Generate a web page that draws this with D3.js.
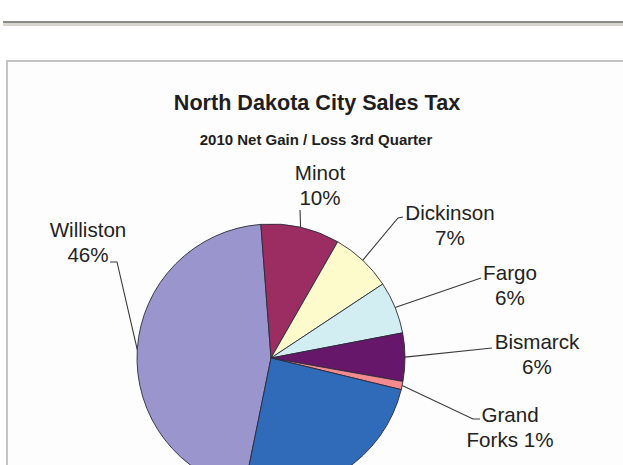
<!DOCTYPE html>
<html>
<head>
<meta charset="utf-8">
<script src="https://cdn.jsdelivr.net/npm/d3@7"></script>
<style>
  html, body { margin: 0; padding: 0; background: #fff; overflow: hidden; }
  svg { display: block; }
</style>
</head>
<body>
<svg id="chart" width="623" height="465"></svg>
<script>
// Slice order follows the workbook (Williston is the first series point).
const cities = ['Williston', 'Minot', 'Dickinson', 'Fargo', 'Bismarck', 'Grand Forks', 'Other'];
const shares = [45.6, 9.5, 7.4, 6.3, 5.8, 1.0, 24.4];
const colors = ['#9a96cd', '#9c2d62', '#fdfbcc', '#d3eef3', '#66176a', '#f28a8e', '#2f6bb9'];

const title = 'North Dakota City Sales Tax';
const subtitle = '2010 Net Gain / Loss 3rd Quarter';

// Hand placed labels (Excel style), text centre + baseline, leader end points.
const labelLayout = {
  'Williston':   { x: 88,  y: 237, leader: [[117, 262], [110, 262]] },
  'Minot':       { x: 320, y: 180, leader: [[300, 210]] },
  'Dickinson':   { x: 450, y: 220, leader: [[398, 218], [403, 217]] },
  'Fargo':       { x: 510, y: 280, leader: [[481, 278]] },
  'Bismarck':    { x: 537, y: 349, leader: [[492, 348]] },
  'Grand Forks': { x: 510, y: 422, leader: [[473, 419], [480, 419]] }
};

const svg = d3.select('#chart');
const font = '"Liberation Sans", Arial, sans-serif';

// page rule
svg.append('rect').attr('x', 3).attr('y', 21).attr('width', 620).attr('height', 2).attr('fill', '#8a8a8a');
svg.append('rect').attr('x', 3).attr('y', 23).attr('width', 620).attr('height', 3).attr('fill', '#d8d5ce');

// chart frame
svg.append('rect')
  .attr('x', 7).attr('y', 61).attr('width', 640).attr('height', 440)
  .attr('fill', '#fdfdfd').attr('stroke', '#c4c4c4').attr('stroke-width', 2);

svg.append('text')
  .attr('x', 317).attr('y', 110)
  .attr('text-anchor', 'middle')
  .style('font', `bold 21.6px ${font}`)
  .attr('fill', '#1e1e1e')
  .text(title);

svg.append('text')
  .attr('x', 316).attr('y', 145)
  .attr('text-anchor', 'middle')
  .style('font', `bold 15px ${font}`)
  .attr('fill', '#1e1e1e')
  .text(subtitle);

const cx = 271, cy = 358, radius = 134;
const start = 191.5 * Math.PI / 180;

const pie = d3.pie().sort(null).startAngle(start).endAngle(start + 2 * Math.PI);
const arcs = pie(shares)
  .map((a, i) => Object.assign(a, { city: cities[i], color: colors[i] }));

const arc = d3.arc().innerRadius(0).outerRadius(radius);
const edge = d3.arc().innerRadius(radius).outerRadius(radius);

const g = svg.append('g').attr('transform', `translate(${cx},${cy})`);

g.selectAll('path.slice')
  .data(arcs)
  .enter()
  .append('path')
  .attr('class', 'slice')
  .attr('d', arc)
  .attr('fill', d => d.color)
  .attr('stroke', '#2a2a3a')
  .attr('stroke-width', 0.9)
  .attr('stroke-linejoin', 'round');

// leader lines + labels for the cities that have a label placed
const labelled = arcs.filter(d => labelLayout[d.city]);

svg.selectAll('path.leader')
  .data(labelled)
  .enter()
  .append('path')
  .attr('class', 'leader')
  .attr('fill', 'none')
  .attr('stroke', '#3a3a3a')
  .attr('stroke-width', 1.1)
  .attr('d', d => {
    const p = edge.centroid(d);
    const pts = [[cx + p[0], cy + p[1]]].concat(labelLayout[d.city].leader);
    return d3.line()(pts);
  });

const labels = svg.selectAll('text.label')
  .data(labelled)
  .enter()
  .append('text')
  .attr('class', 'label')
  .attr('text-anchor', 'middle')
  .attr('fill', '#222')
  .style('font', `20.6px ${font}`);

labels.each(function(d) {
  const pos = labelLayout[d.city];
  const pct = Math.round(d.value) + '%';
  const words = d.city.split(' ');
  // two word names wrap the second word onto the percent line
  const lines = words.length > 1
    ? [words[0], words.slice(1).join(' ') + ' ' + pct]
    : [d.city, pct];
  d3.select(this).selectAll('tspan')
    .data(lines)
    .enter()
    .append('tspan')
    .attr('x', pos.x)
    .attr('y', (t, i) => pos.y + i * 24.5)
    .text(t => t);
});
</script>
</body>
</html>
